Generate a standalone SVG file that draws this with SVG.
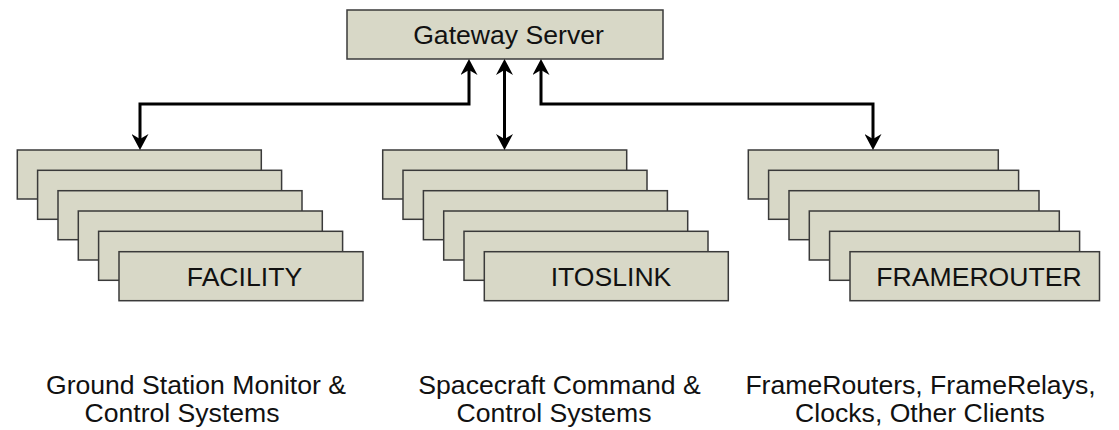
<svg xmlns="http://www.w3.org/2000/svg" width="1119" height="430" viewBox="0 0 1119 430">
<defs>
<style>
.box{fill:#d8d8c7;stroke:#3a3a3a;stroke-width:1.5}
.t{font-family:"Liberation Sans",Arial,sans-serif;fill:#111;text-anchor:middle}
.big{font-size:26.6px}
.con{fill:none;stroke:#000;stroke-width:3}
</style>
<marker id="ah" viewBox="0 0 16 17" refX="8" refY="8.5" markerWidth="16" markerHeight="17" markerUnits="userSpaceOnUse" orient="auto-start-reverse">
<path d="M16,8.5 L0,0 L5,8.5 L0,17 Z" fill="#000"/>
</marker>
</defs>
<rect width="1119" height="430" fill="#fff"/>
<g id="gateway">
<rect class="box" x="347" y="10" width="316" height="49"/>
<text class="t big" x="508.5" y="44">Gateway Server</text>
</g>
<g id="facility">
<rect class="box" x="17.3" y="150" width="244" height="49"/>
<rect class="box" x="37.6" y="170.3" width="244" height="49"/>
<rect class="box" x="58" y="190.7" width="244" height="49"/>
<rect class="box" x="78.3" y="211" width="244" height="49"/>
<rect class="box" x="98.6" y="231.3" width="244" height="49"/>
<rect class="box" x="119" y="251.7" width="244" height="49"/>
<text class="t big" x="244.5" y="286">FACILITY</text>
</g>
<g id="itoslink">
<rect class="box" x="382.7" y="150" width="244" height="49"/>
<rect class="box" x="403" y="170.3" width="244" height="49"/>
<rect class="box" x="423.4" y="190.7" width="244" height="49"/>
<rect class="box" x="443.7" y="211" width="244" height="49"/>
<rect class="box" x="464" y="231.3" width="244" height="49"/>
<rect class="box" x="484.3" y="251.7" width="244" height="49"/>
<text class="t big" x="611" y="286">ITOSLINK</text>
</g>
<g id="framerouter">
<rect class="box" x="748.3" y="150" width="250" height="49"/>
<rect class="box" x="768.6" y="170.3" width="250" height="49"/>
<rect class="box" x="789" y="190.7" width="250" height="49"/>
<rect class="box" x="809.3" y="211" width="250" height="49"/>
<rect class="box" x="829.6" y="231.3" width="250" height="49"/>
<rect class="box" x="850" y="251.7" width="249.5" height="49"/>
<text class="t big" x="979" y="286">FRAMEROUTER</text>
</g>
<g id="connectors">
<path class="con" d="M469,67 L469,104 L140,104 L140,142" marker-start="url(#ah)" marker-end="url(#ah)"/>
<path class="con" d="M504.5,67 L504.5,142" marker-start="url(#ah)" marker-end="url(#ah)"/>
<path class="con" d="M541,67 L541,104 L873,104 L873,142" marker-start="url(#ah)" marker-end="url(#ah)"/>
</g>
<g id="labels">
<text class="t big" x="196" y="394">Ground Station Monitor &amp;</text>
<text class="t big" x="182" y="422">Control Systems</text>
<text class="t big" x="559.5" y="394">Spacecraft Command &amp;</text>
<text class="t big" x="554" y="422">Control Systems</text>
<text class="t big" x="920.5" y="394">FrameRouters, FrameRelays,</text>
<text class="t big" x="920" y="422">Clocks, Other Clients</text>
</g>
</svg>
